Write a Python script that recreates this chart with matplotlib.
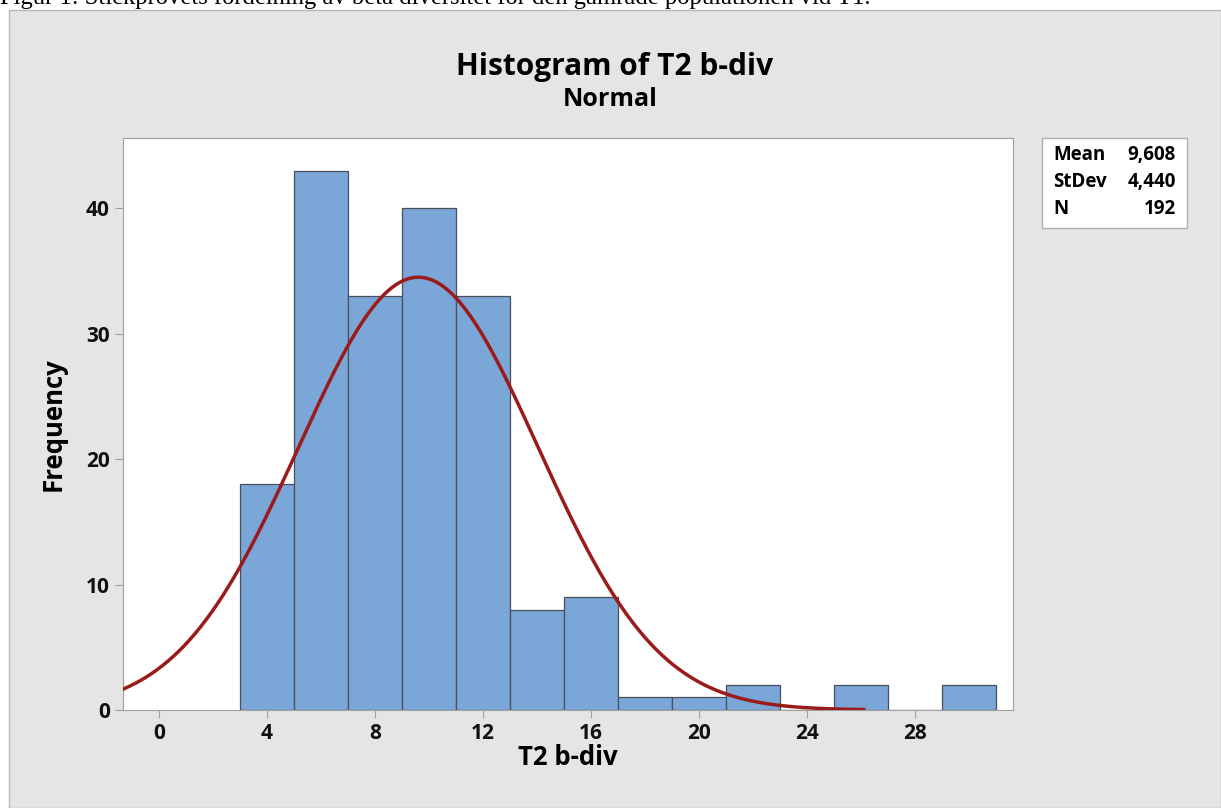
import matplotlib.pyplot as plt
import numpy as np
from matplotlib.patches import Rectangle

# histogram bins (width 2) and counts
bin_edges = [3, 5, 7, 9, 11, 13, 15, 17, 19, 21, 23, 25, 27, 29, 31]
counts = [18, 43, 33, 40, 33, 8, 9, 1, 1, 2, 0, 2, 0, 2]

mean = 9.608
stdev = 4.440
n = 192

x_ticks = [0, 4, 8, 12, 16, 20, 24, 28]
y_ticks = [0, 10, 20, 30, 40]

plt.rcParams['font.family'] = ['Open Sans', 'DejaVu Sans']

fig = plt.figure(figsize=(12.21, 8.08), dpi=100)
fig.patch.set_facecolor('white')

# gray panel behind the chart
fig.patches.append(Rectangle((9 / 1221, 0), 1 - 9 / 1221, 1 - 10 / 808,
                             transform=fig.transFigure, facecolor='#e5e5e5',
                             edgecolor='#b8b8b8', linewidth=1, zorder=-5))

# caption of the document, cut off at the top
fig.text(0.0, 1 - 4 / 808, 'Figur 1: Stickprovets fördelning av beta diversitet för den gamrade populationen vid T1.',
         family='Liberation Serif', fontsize=17.7, ha='left', va='baseline')

ax = fig.add_axes([123 / 1221, 1 - 710 / 808, 890 / 1221, 572 / 808])
ax.set_facecolor('white')

widths = np.diff(bin_edges)
ax.bar(bin_edges[:-1], counts, width=widths, align='edge', color='#7ba6d8',
       edgecolor='#4a4f5a', linewidth=0.9, zorder=2)

# fitted normal curve
xs = np.linspace(-1.33, 26.1, 400)
ys = n * 2 * np.exp(-0.5 * ((xs - mean) / stdev) ** 2) / (stdev * np.sqrt(2 * np.pi))
ax.plot(xs, ys, color='#9b1a1a', linewidth=2.5, zorder=3)

ax.set_xlim(-1.33, 31.63)
ax.set_ylim(0, 45.6)
ax.set_xticks(x_ticks)
ax.set_yticks(y_ticks)
for s in ax.spines.values():
    s.set_color('#a0a0a0')
ax.tick_params(colors='#a0a0a0', length=6, labelcolor='#111111', labelsize=15)
for lab in ax.get_xticklabels() + ax.get_yticklabels():
    lab.set_fontweight('bold')

ax.set_xlabel('T2 b-div', fontsize=18.5, fontweight='bold', labelpad=0)
ax.set_ylabel('Frequency', fontsize=18.5, fontweight='bold', labelpad=14)

fig.text(615 / 1221, 1 - 67 / 808, 'Histogram of T2 b-div', fontsize=21.5, fontweight='bold',
         ha='center', va='center')
fig.text(610 / 1221, 1 - 100 / 808, 'Normal', fontsize=18, fontweight='bold',
         ha='center', va='center')

# stats box
fig.patches.append(Rectangle((1042 / 1221, 1 - 228 / 808), 145 / 1221, 90 / 808,
                             transform=fig.transFigure, facecolor='white',
                             edgecolor='#b0b0b0', linewidth=1, zorder=1))
labels = ['Mean', 'StDev', 'N']
values = ['9,608', '4,440', '192']
for i, (lab, val) in enumerate(zip(labels, values)):
    y = 1 - (155 + i * 27) / 808
    fig.text(1053 / 1221, y, lab, fontsize=13.5, fontweight='bold', ha='left', va='center', zorder=2)
    fig.text(1176 / 1221, y, val, fontsize=13.5, fontweight='bold', ha='right', va='center', zorder=2)

fig.savefig('out.png', dpi=100)
